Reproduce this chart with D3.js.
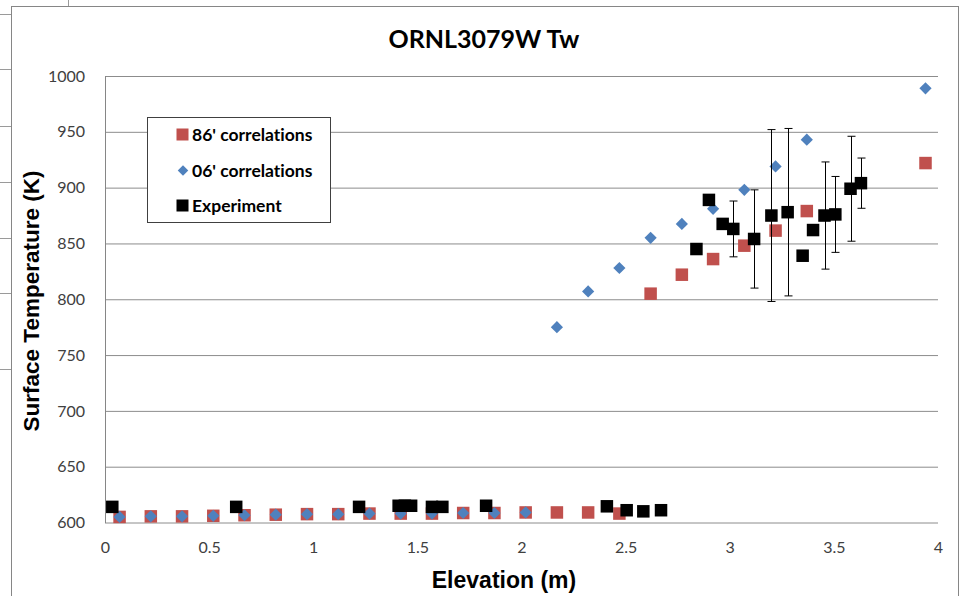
<!DOCTYPE html>
<html>
<head>
<meta charset="utf-8">
<script src="https://cdn.jsdelivr.net/npm/d3@7"></script>
<style>
  body { margin: 0; background: #fff; }
  svg { display: block; }
  text { font-variant-ligatures: none; font-feature-settings: "liga" 0; }
</style>
</head>
<body>
<div id="chart"></div>
<script>
// 86' correlations
const corr86X = [0.07, 0.22, 0.37, 0.52, 0.67, 0.82, 0.97, 1.12, 1.27, 1.42, 1.57, 1.72, 1.87, 2.02, 2.17, 2.32, 2.47,
                 2.62, 2.77, 2.92, 3.07, 3.22, 3.37, 3.94];
const corr86Y = [605, 605.5, 605.5, 606, 606.5, 607, 607.5, 607.5, 608, 608, 608, 608.5, 608.5, 609, 609, 609, 608,
                 805, 822, 836, 848, 861.5, 879, 922];
// 06' correlations
const corr06X = [0.07, 0.22, 0.37, 0.52, 0.67, 0.82, 0.97, 1.12, 1.27, 1.42, 1.57, 1.72, 1.87, 2.02,
                 2.17, 2.32, 2.47, 2.62, 2.77, 2.92, 3.07, 3.22, 3.37, 3.94];
const corr06Y = [605, 605.5, 605.5, 606, 606.5, 607, 607.5, 607.5, 608, 608, 608, 608.5, 608.5, 609,
                 775, 807, 828, 855, 867.5, 881, 898, 919, 943, 989];
// Experiment
const expX = [0.035, 0.63, 1.22, 1.41, 1.44, 1.47, 1.57, 1.62, 1.83, 2.41, 2.505, 2.585, 2.67,
              2.84, 2.90, 2.966, 3.017, 3.117, 3.20, 3.278, 3.35, 3.40, 3.455, 3.507, 3.58, 3.63];
const expY = [614, 614, 614, 615, 615, 615, 614, 614, 615, 614.5, 611, 610, 611,
              845, 889, 867.5, 863, 854, 875, 878, 839, 862, 875, 876, 899, 904];
const expErr = [0, 0, 0, 0, 0, 0, 0, 0, 0, 0, 0, 0, 0,
                0, 0, 3, 25, 44, 77, 75, 0, 4, 48, 34, 47, 22.5];

const yTicks = [600, 650, 700, 750, 800, 850, 900, 950, 1000];
const xTicks = [0, 0.5, 1, 1.5, 2, 2.5, 3, 3.5, 4];
const legendItems = [
  { label: "86' correlations", shape: "square", color: "#c0504d" },
  { label: "06' correlations", shape: "diamond", color: "#4f81bd" },
  { label: "Experiment", shape: "square", color: "#000000" }
];
// stray spreadsheet lines left of the chart frame
const sheetRows = [14, 69, 126, 182, 238, 293, 369];

const width = 961, height = 596;
const svg = d3.select("#chart").append("svg")
  .attr("width", width).attr("height", height);

const x = d3.scaleLinear().domain([0, 4]).range([105, 938]);
const y = d3.scaleLinear().domain([600, 1000]).range([522.5, 76]);

// background bits
svg.selectAll(".sheet").data(sheetRows).enter().append("line")
  .attr("x1", 0).attr("x2", 11).attr("y1", d => d + 0.5).attr("y2", d => d + 0.5)
  .attr("stroke", "#9a9a9a");
svg.append("line").attr("x1", 68.5).attr("x2", 68.5).attr("y1", 0).attr("y2", 6)
  .attr("stroke", "#9a9a9a");

// chart frame
svg.append("rect")
  .attr("x", 11.5).attr("y", 6.5).attr("width", 947).attr("height", 620)
  .attr("fill", "#fff").attr("stroke", "#868686");

// gridlines
svg.append("g")
  .attr("transform", "translate(105,0)")
  .call(d3.axisLeft(y).tickValues(yTicks).tickSize(-(938 - 105)).tickFormat(""))
  .call(g => g.select(".domain").remove())
  .call(g => g.selectAll("line").attr("stroke", "#8c8c8c"));

// y axis line
svg.append("line").attr("x1", 105.5).attr("x2", 105.5).attr("y1", 76).attr("y2", 523)
  .attr("stroke", "#868686");

// y tick labels
svg.append("g")
  .attr("transform", "translate(105,0)")
  .call(d3.axisLeft(y).tickValues(yTicks).tickSize(0).tickPadding(20).tickFormat(d3.format("d")))
  .call(g => g.select(".domain").remove())
  .call(g => g.selectAll("text")
    .attr("font-family", "Lato, 'Open Sans', sans-serif")
    .attr("font-size", 16).attr("fill", "#404040"));

// x tick labels
svg.append("g")
  .attr("transform", "translate(0,522.5)")
  .call(d3.axisBottom(x).tickValues(xTicks).tickSize(0).tickPadding(19).tickFormat(d3.format("")))
  .call(g => g.select(".domain").remove())
  .call(g => g.selectAll("text")
    .attr("font-family", "Lato, 'Open Sans', sans-serif")
    .attr("font-size", 16).attr("fill", "#404040"));

// titles
svg.append("text").attr("x", 484).attr("y", 48).attr("text-anchor", "middle")
  .attr("font-family", "Lato, sans-serif").attr("font-weight", "bold").attr("font-size", 25)
  .text("ORNL3079W Tw");
svg.append("text").attr("x", 504).attr("y", 588).attr("text-anchor", "middle")
  .attr("font-family", "'Liberation Sans', Arial, sans-serif").attr("font-weight", "bold").attr("font-size", 23)
  .text("Elevation (m)");
svg.append("text")
  .attr("transform", "translate(39,301) rotate(-90)").attr("text-anchor", "middle")
  .attr("font-family", "'Liberation Sans', Arial, sans-serif").attr("font-weight", "bold").attr("font-size", 22.5)
  .text("Surface Temperature (K)");

const sq = 12.5, blackSq = 12.5;
const diamond = d3.symbol().type(d3.symbolDiamond2).size(95);

// 86' correlations
svg.append("g").selectAll("rect")
  .data(corr86X.map((v, i) => [v, corr86Y[i]]))
  .enter().append("rect")
  .attr("x", d => x(d[0]) - sq / 2).attr("y", d => y(d[1]) - sq / 2)
  .attr("width", sq).attr("height", sq).attr("fill", "#c0504d");

// 06' correlations
svg.append("g").selectAll("path")
  .data(corr06X.map((v, i) => [v, corr06Y[i]]))
  .enter().append("path")
  .attr("d", diamond)
  .attr("transform", d => `translate(${x(d[0])},${y(d[1])})`)
  .attr("fill", "#4f81bd");

// Experiment with error bars
const exp = expX.map((v, i) => ({ x: v, y: expY[i], e: expErr[i] }));
const errG = svg.append("g").attr("stroke", "#000").attr("stroke-width", 1);
exp.filter(d => d.e > 0).forEach(d => {
  const cx = Math.round(x(d.x)) + 0.5;
  errG.append("line").attr("x1", cx).attr("x2", cx).attr("y1", y(d.y - d.e)).attr("y2", y(d.y + d.e));
  [d.y - d.e, d.y + d.e].forEach(v => {
    errG.append("line").attr("x1", cx - 4).attr("x2", cx + 4).attr("y1", y(v)).attr("y2", y(v));
  });
});
svg.append("g").selectAll("rect")
  .data(exp)
  .enter().append("rect")
  .attr("x", d => x(d.x) - blackSq / 2).attr("y", d => y(d.y) - blackSq / 2)
  .attr("width", blackSq).attr("height", blackSq).attr("fill", "#000");

// legend
const legend = svg.append("g");
legend.append("rect").attr("x", 147.5).attr("y", 117.5).attr("width", 183).attr("height", 105)
  .attr("fill", "#fff").attr("stroke", "#404040");
const rows = legend.selectAll(".legend").data(legendItems).enter().append("g")
  .attr("transform", (d, i) => `translate(183,${135 + i * 35.5})`);
rows.filter(d => d.shape === "square").append("rect")
  .attr("x", -6.5).attr("y", -6.5).attr("width", 12).attr("height", 12).attr("fill", d => d.color);
rows.filter(d => d.shape === "diamond").append("path")
  .attr("d", d3.symbol().type(d3.symbolDiamond2).size(70)).attr("fill", d => d.color);
rows.append("text").attr("x", 9).attr("dy", "0.36em")
  .attr("font-family", "Lato, sans-serif").attr("font-weight", "bold").attr("font-size", 17.5)
  .attr("fill", "#000").text(d => d.label);
</script>
</body>
</html>
